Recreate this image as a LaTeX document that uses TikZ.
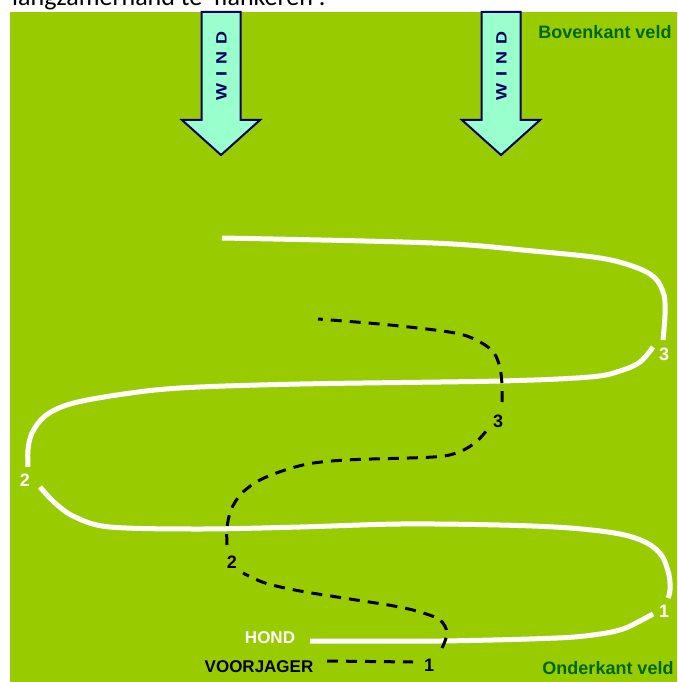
\documentclass[tikz,border=0pt]{standalone}
\usepackage{fontspec}
\setmainfont{Liberation Sans}
\newfontfamily\calibrifont{Carlito}
\newfontfamily\widefont[FakeStretch=1.2]{Liberation Sans}
\usepackage{xcolor}
\usepackage{tikz}
\usetikzlibrary{calc}
\usetikzlibrary{positioning}
\definecolor{veldgreen}{RGB}{153,204,0}
\definecolor{veldtext}{RGB}{0,102,0}
\definecolor{windfill}{RGB}{153,255,204}
\definecolor{windline}{RGB}{0,0,102}
\tikzset{hondpath/.style={draw=white, line width=5pt},
voorpath/.style={draw=black, line width=3pt, dash pattern=on 11pt off 8pt},
windarrow/.style={draw=windline, fill=windfill, line width=2pt, line join=miter},
windtext/.style={rotate=90, text=windline, font=\widefont\fontsize{15}{18}\selectfont\bfseries},
%labels in the field
veldlabel/.style={text=veldtext, font=\fontsize{18}{21}\selectfont\bfseries},
hondlabel/.style={text=white, font=\fontsize{17}{20}\selectfont\bfseries},
voorlabel/.style={text=black, font=\fontsize{17}{20}\selectfont\bfseries},
turnlabel/.style={font=\fontsize{18}{21}\selectfont\bfseries}}

\begin{document}
\begin{tikzpicture}[x=1pt,y=-1pt]
 \useasboundingbox (0,0) rectangle (677,682);
 \fill[white] (0,0) rectangle (677,682);
 \fill[veldgreen] (10,12) rectangle (677,682);

 %Drawing the cut off text line on top
 \begin{scope}
 \clip (0,0) rectangle (677,12);
 \node[anchor=base west, inner sep=0pt, font=\calibrifont\fontsize{26}{30}\selectfont] (toptext) at (12,6) {langzamerhand te 'flankeren'.};
 \end{scope}

 %Drawing Wind Arrows
 \draw[windarrow] (201.5,12) -- (240.5,12) -- (240.5,120) -- (260,120) -- (221,155) -- (182,120) -- (201.5,120) -- cycle;
 \node[windtext] (windleft) at (221.5,66) {W\hspace{7pt}I\hspace{7pt}N\hspace{7pt}D};
 \draw[windarrow] (481.5,12) -- (520.5,12) -- (520.5,120) -- (540,120) -- (501,155) -- (462,120) -- (481.5,120) -- cycle;
 \node[windtext] (windright) at (501.5,66) {W\hspace{7pt}I\hspace{7pt}N\hspace{7pt}D};

 \node[veldlabel] (bovenkant) at (605,32) {Bovenkant veld};
 \node[veldlabel] (onderkant) at (608,668) {Onderkant veld};

 %Drawing the path of the dog
 \draw[hondpath] plot[smooth, tension=0.55] coordinates {(222,238) (433,243) (533,251) (600,258) (635,267) (655,278) (664,295) (665,315) (663,340)};
 \draw[hondpath] plot[smooth, tension=0.55] coordinates {(653,347) (640,362) (620,371) (590,377) (500,381) (300,384) (180,388) (117,395) (70,404) (45,416) (32,433) (28,450) (28,467)};
 \draw[hondpath] plot[smooth, tension=0.55] coordinates {(40,487) (55,503) (75,517) (110,527) (200,529) (300,527) (400,524) (500,525) (570,528) (620,534) (647,543) (662,556) (669,575) (670,590) (668,598)};
 \draw[hondpath] plot[smooth, tension=0.55] coordinates {(653,614) (640,621) (623,629) (600,634) (557,638) (440,641) (310,641)};

 \node[hondlabel] (hond) at (270,638) {HOND};
 \node[turnlabel, text=white] (hondturn1) at (664,611) {1};
 \node[turnlabel, text=white] (hondturn2) at (25,480) {2};
 \node[turnlabel, text=white] (hondturn3) at (664,354) {3};

 %Drawing the path of the handler
 \draw[voorpath] (327,661) -- (413,662);
 \draw[voorpath] plot[smooth, tension=0.55] coordinates {(442,648) (447,633) (440,620) (420,612) (394,606) (350,599) (300,591) (265,583) (243,573)};
 \draw[voorpath] plot[smooth, tension=0.55] coordinates {(227,545) (227,528) (231,510) (242,493) (264,478) (303,465) (346,460) (433,457) (459,452) (476,442) (487,430)};
 \draw[voorpath] plot[smooth, tension=0.55] coordinates {(502,402) (502,385) (500,368) (494,353) (480,342) (455,333) (390,325) (318,319)};

 \node[voorlabel] (voorjager) at (259,667) {VOORJAGER};
 \node[turnlabel, text=black] (voorturn1) at (429,665) {1};
 \node[turnlabel, text=black] (voorturn2) at (232,562) {2};
 \node[turnlabel, text=black] (voorturn3) at (498,421) {3};

\end{tikzpicture}
\end{document}
